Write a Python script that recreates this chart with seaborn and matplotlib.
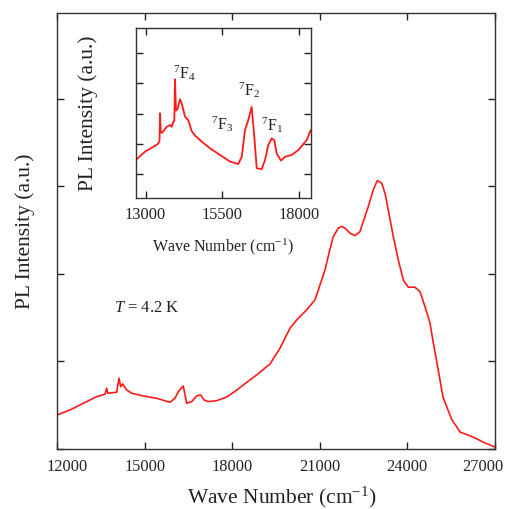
import numpy as np
import pandas as pd
import matplotlib
matplotlib.use("Agg")
import matplotlib.pyplot as plt
import matplotlib.transforms as mtransforms
import seaborn as sns

# ---- main spectrum (wave number cm^-1, PL intensity a.u.) ----
main_wn = [12000, 12435, 12892, 13351, 13636, 13694, 13728, 14037, 14116, 14174,
           14243, 14380, 14551, 14949, 15408, 15864, 16036, 16149, 16321, 16437,
           16609, 16780, 16917, 17030, 17178, 17466, 17819, 18100, 18378, 18837,
           19294, 19636, 19979, 20209, 20552, 20837, 21008, 21180, 21320, 21464,
           21636, 21752, 21865, 22037, 22208, 22380, 22493, 22664, 22836, 22973,
           23124, 23237, 23350, 23522, 23693, 23865, 24036, 24265, 24437, 24608,
           24780, 24896, 25020, 25123, 25226, 25352, 25534, 25695, 25808, 26254,
           26665, 27000]
main_pl = [0.389, 0.446, 0.522, 0.598, 0.625, 0.694, 0.637, 0.648, 0.808, 0.712,
           0.743, 0.674, 0.637, 0.606, 0.579, 0.534, 0.579, 0.655, 0.720, 0.522,
           0.541, 0.606, 0.617, 0.560, 0.541, 0.552, 0.595, 0.660, 0.731, 0.846,
           0.971, 1.150, 1.379, 1.474, 1.589, 1.703, 1.874, 2.046, 2.240, 2.426,
           2.522, 2.541, 2.522, 2.465, 2.438, 2.483, 2.598, 2.769, 2.960, 3.066,
           3.037, 2.922, 2.731, 2.426, 2.160, 1.931, 1.848, 1.848, 1.798, 1.626,
           1.440, 1.208, 0.983, 0.789, 0.594, 0.484, 0.331, 0.255, 0.194, 0.137,
           0.069, 0.023]

# ---- inset spectrum ----
inset_wn = [12682, 12984, 13308, 13416, 13455, 13471, 13494, 13536, 13688, 13796,
            13851, 13903, 13935, 13958, 13990, 14040, 14120, 14175, 14282, 14390,
            14500, 14610, 14770, 15094, 15419, 15744, 16013, 16124, 16231, 16338,
            16448, 16533, 16611, 16773, 16880, 16987, 17098, 17182, 17260, 17400,
            17530, 17747, 17961, 18234, 18364]
inset_pl = [1.46, 1.74, 1.93, 2.01, 2.09, 3.01, 2.40, 2.36, 2.56, 2.62,
            2.56, 2.73, 2.75, 4.13, 3.10, 3.15, 3.47, 3.34, 2.90, 2.78,
            2.42, 2.27, 2.12, 1.85, 1.63, 1.41, 1.33, 1.57, 2.45, 2.79,
            3.22, 2.23, 1.19, 1.16, 1.46, 1.96, 2.18, 2.12, 1.68, 1.44,
            1.57, 1.63, 1.79, 2.12, 2.45]

main_xticks = [12000, 15000, 18000, 21000, 24000, 27000]
inset_xticks = [13000, 15500, 18000]
peak_labels = [r"$^{7}$F$_{4}$", r"$^{7}$F$_{3}$", r"$^{7}$F$_{2}$", r"$^{7}$F$_{1}$"]

sns.set_theme(style="ticks")
plt.rcParams["font.family"] = ["Liberation Serif", "DejaVu Serif"]
plt.rcParams["mathtext.fontset"] = "custom"
plt.rcParams["mathtext.rm"] = "Liberation Serif"
plt.rcParams["mathtext.it"] = "Liberation Serif:italic"
plt.rcParams["axes.linewidth"] = 1.0
plt.rcParams["axes.edgecolor"] = "#333333"

fig = plt.figure(figsize=(5.06, 5.09), dpi=100)
ax = fig.add_axes([0.1132, 0.1179, 0.8645, 0.8566])

df_main = pd.DataFrame({"wn": main_wn, "pl": main_pl})
sns.lineplot(data=df_main, x="wn", y="pl", ax=ax, color="#ff1a1a", lw=1.2,
             sort=False, estimator=None)
ax.set_xlim(12000, 27000)
ax.set_ylim(0, 4.98)
ax.set_xticks(main_xticks)
ax.set_yticks([0, 1, 2, 3, 4])
ax.set_yticklabels([])
ax.tick_params(direction="in", length=5, width=1.0, top=True, right=True,
               labelsize=11.8, colors="#222222", pad=7)
ax.set_xlabel("Wave Number (cm$^{-1}$)", fontsize=15.5, color="#222222", labelpad=7)
ax.xaxis.label.set_x(0.514)
ax.set_ylabel("PL Intensity (a.u.)", fontsize=15.5, color="#222222", labelpad=9)
ax.text(13950, 1.61, r"$T$ = 4.2 K", fontsize=12, color="#222222", va="center")

# shift the first and last tick labels inward like the reference
fig.canvas.draw()
xtl = ax.get_xticklabels()
xtl[0].set_transform(xtl[0].get_transform() + mtransforms.ScaledTranslation(9.5 / 100, 0, fig.dpi_scale_trans))
xtl[-1].set_transform(xtl[-1].get_transform() + mtransforms.ScaledTranslation(-12 / 100, 0, fig.dpi_scale_trans))

# ---- inset ----
axi = fig.add_axes([0.2682, 0.6116, 0.3458, 0.3334])
df_in = pd.DataFrame({"wn": inset_wn, "pl": inset_pl})
sns.lineplot(data=df_in, x="wn", y="pl", ax=axi, color="#ff1a1a", lw=1.3,
             sort=False, estimator=None)
axi.set_xlim(12682, 18364)
axi.set_ylim(0.216, 5.83)
axi.set_xticks(inset_xticks)
axi.set_yticks([1, 2, 3, 4, 5])
axi.set_yticklabels([])
axi.tick_params(direction="in", length=5, width=1.0, top=True, right=True,
                labelsize=11.8, colors="#222222", pad=7)
axi.set_xlabel("Wave Number (cm$^{-1}$)", fontsize=11.5, color="#222222", labelpad=9.5)
axi.set_ylabel("PL Intensity (a.u.)", fontsize=15.5, color="#222222", labelpad=20)
for (xx, yy), lab in zip([(14250, 4.34), (15480, 2.66), (16370, 3.78), (17120, 2.62)], peak_labels):
    axi.text(xx, yy, lab, fontsize=11.5, ha="center", va="center", color="#222222")

fig.savefig("out.png", dpi=100)
